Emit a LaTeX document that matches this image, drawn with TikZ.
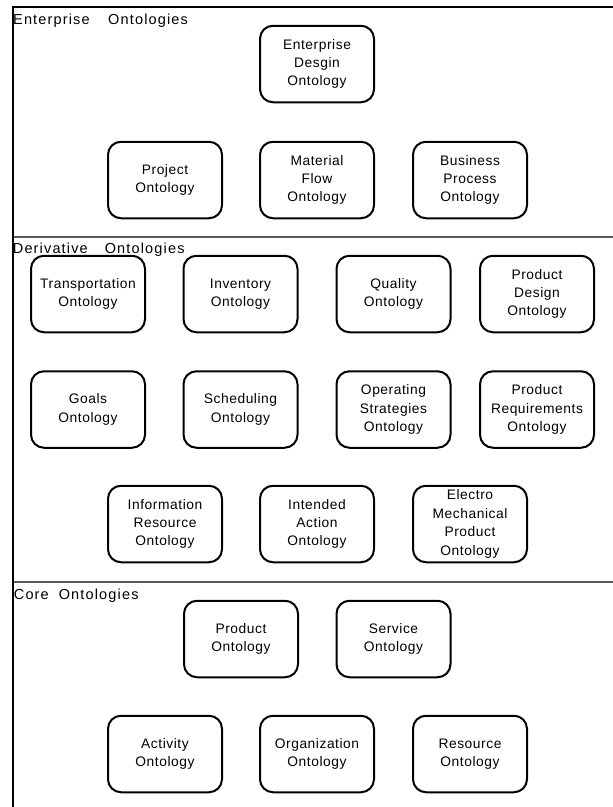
\documentclass[tikz,border=0pt]{standalone}
\usepackage{fontspec}
\setmainfont{Liberation Sans}
\newfontfamily\boxfont[LetterSpace=4]{Liberation Sans}
\newfontfamily\labelfont[LetterSpace=8]{Liberation Sans}

\tikzset{
  onto/.style={draw, line width=2pt, rounded corners=13pt,
    minimum width=114pt, minimum height=76.5pt, inner sep=0pt,
    align=center, font=\boxfont\fontsize{13.8}{18.4}\selectfont},
  seclabel/.style={anchor=base west, inner sep=0pt,
    font=\labelfont\fontsize{14.5}{16}\selectfont},
  frameline/.style={line width=2.2pt, black},
  divider/.style={line width=1.3pt, black!65}
}

\begin{document}
\begin{tikzpicture}[x=1pt, y=-1pt]
\useasboundingbox (0,0) rectangle (613,807);

% outer frame (left and top edges)
\draw[frameline] (12.8,807) -- (12.8,7) -- (613,7);

% section dividers
\draw[divider] (14,237) -- (613,237);
\draw[divider] (14,582) -- (613,582);

% section titles
\node[seclabel] (enttitle)  at (13,24)    {Enterprise\hspace{18.5pt}Ontologies};
\node[seclabel] (dertitle)  at (12.7,253) {Derivative\hspace{17pt}Ontologies};
\node[seclabel] (coretitle) at (13.7,599) {Core\hspace{10pt}Ontologies};

% enterprise ontologies
\node[onto] (entdesign) at (317,64)  {Enterprise\\Desgin\\Ontology};
\node[onto] (project)   at (165,180) {Project\\Ontology};
\node[onto] (material)  at (317,180) {Material\\Flow\\Ontology};
\node[onto] (business)  at (470,180) {Business\\Process\\Ontology};

% derivative ontologies
\node[onto] (transport) at (88,294)    {Transportation\\Ontology};
\node[onto] (inventory) at (240.5,294) {Inventory\\Ontology};
\node[onto] (quality)   at (393.5,294) {Quality\\Ontology};
\node[onto] (proddes)   at (537,294)   {Product\\Design\\Ontology};

\node[onto] (goals)     at (88,409.5)    {Goals\\Ontology};
\node[onto] (sched)     at (240.5,409.5) {Scheduling\\Ontology};
\node[onto] (opstrat)   at (393.5,409.5) {Operating\\Strategies\\Ontology};
\node[onto] (prodreq)   at (537,409.5)   {Product\\Requirements\\Ontology};

\node[onto] (infores)   at (165,524) {Information\\Resource\\Ontology};
\node[onto] (intended)  at (317,524) {Intended\\Action\\Ontology};
\node[onto] (electro)   at (470,524) {Electro\\Mechanical\\Product\\Ontology};

% core ontologies
\node[onto] (product)   at (241,639)   {Product\\Ontology};
\node[onto] (service)   at (393.5,639) {Service\\Ontology};

\node[onto] (activity)  at (165,754) {Activity\\Ontology};
\node[onto] (org)       at (317,754) {Organization\\Ontology};
\node[onto] (resource)  at (470,754) {Resource\\Ontology};
\end{tikzpicture}
\end{document}
